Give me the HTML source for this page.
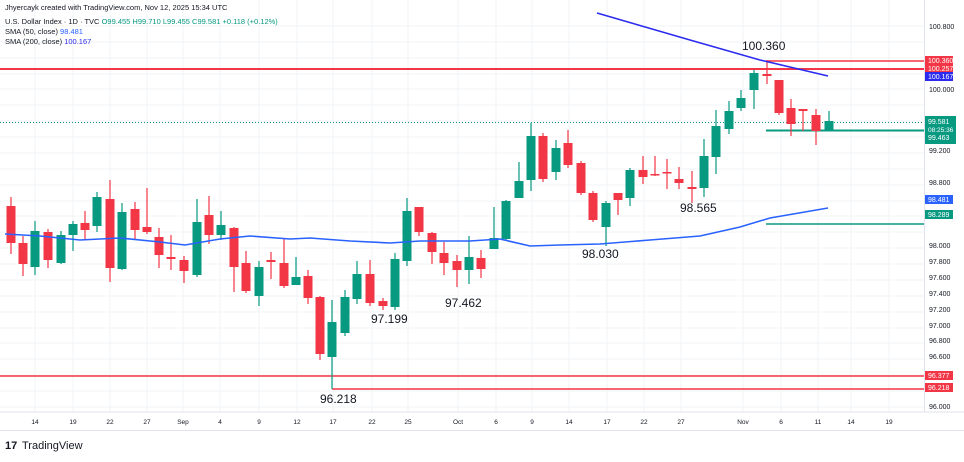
<!DOCTYPE html>
<html><head><meta charset="utf-8"><style>
html,body{margin:0;padding:0;background:#fff;}
svg{display:block;font-family:"Liberation Sans",sans-serif;}
</style></head><body>
<svg id="sv" width="964" height="462" viewBox="0 0 964 462" xmlns="http://www.w3.org/2000/svg">
<rect width="964" height="462" fill="#fff"/>
<g stroke="#f0f3f6" stroke-width="1">
<line x1="0" y1="26" x2="924" y2="26"/><line x1="0" y1="42" x2="924" y2="42"/><line x1="0" y1="58" x2="924" y2="58"/><line x1="0" y1="74" x2="924" y2="74"/><line x1="0" y1="89" x2="924" y2="89"/><line x1="0" y1="105" x2="924" y2="105"/><line x1="0" y1="121" x2="924" y2="121"/><line x1="0" y1="137" x2="924" y2="137"/><line x1="0" y1="153" x2="924" y2="153"/><line x1="0" y1="169" x2="924" y2="169"/><line x1="0" y1="185" x2="924" y2="185"/><line x1="0" y1="201" x2="924" y2="201"/><line x1="0" y1="216" x2="924" y2="216"/><line x1="0" y1="232" x2="924" y2="232"/><line x1="0" y1="248" x2="924" y2="248"/><line x1="0" y1="264" x2="924" y2="264"/><line x1="0" y1="280" x2="924" y2="280"/><line x1="0" y1="296" x2="924" y2="296"/><line x1="0" y1="312" x2="924" y2="312"/><line x1="0" y1="328" x2="924" y2="328"/><line x1="0" y1="343" x2="924" y2="343"/><line x1="0" y1="359" x2="924" y2="359"/><line x1="0" y1="375" x2="924" y2="375"/><line x1="0" y1="391" x2="924" y2="391"/><line x1="0" y1="407" x2="924" y2="407"/>
<line x1="35" y1="0" x2="35" y2="412"/><line x1="73" y1="0" x2="73" y2="412"/><line x1="110" y1="0" x2="110" y2="412"/><line x1="147" y1="0" x2="147" y2="412"/><line x1="183" y1="0" x2="183" y2="412"/><line x1="220" y1="0" x2="220" y2="412"/><line x1="259" y1="0" x2="259" y2="412"/><line x1="297" y1="0" x2="297" y2="412"/><line x1="333" y1="0" x2="333" y2="412"/><line x1="372" y1="0" x2="372" y2="412"/><line x1="408" y1="0" x2="408" y2="412"/><line x1="458" y1="0" x2="458" y2="412"/><line x1="496" y1="0" x2="496" y2="412"/><line x1="532" y1="0" x2="532" y2="412"/><line x1="569" y1="0" x2="569" y2="412"/><line x1="607" y1="0" x2="607" y2="412"/><line x1="644" y1="0" x2="644" y2="412"/><line x1="681" y1="0" x2="681" y2="412"/><line x1="743" y1="0" x2="743" y2="412"/><line x1="781" y1="0" x2="781" y2="412"/><line x1="818" y1="0" x2="818" y2="412"/><line x1="851" y1="0" x2="851" y2="412"/><line x1="889" y1="0" x2="889" y2="412"/>
</g>
<line x1="0" y1="412" x2="964" y2="412" stroke="#e0e3eb"/>
<line x1="924.5" y1="0" x2="924.5" y2="412" stroke="#e0e3eb"/>
<line x1="0" y1="430.5" x2="964" y2="430.5" stroke="#e0e3eb"/>
<line x1="0" y1="122.5" x2="924" y2="122.5" stroke="#089981" stroke-dasharray="1,2"/>
<line x1="0" y1="69" x2="924" y2="69" stroke="#f23645" stroke-width="2"/>
<line x1="767" y1="61" x2="924" y2="61" stroke="#f23645" stroke-width="1.5"/>
<line x1="0" y1="376" x2="924" y2="376" stroke="#f23645" stroke-width="1.5"/>
<line x1="332" y1="389" x2="924" y2="389" stroke="#f23645" stroke-width="1.5"/>
<line x1="766" y1="130.5" x2="924" y2="130.5" stroke="#089981" stroke-width="2"/>
<line x1="766" y1="224" x2="924" y2="224" stroke="#089981" stroke-width="1.5"/>
<g id="c"></g>
<polyline fill="none" stroke="#2962ff" stroke-width="1.6" points="5,234 40,236 80,240 120,238 160,242 185,245 220,239 250,236 290,239 310,238 350,241 390,243 420,241 470,241 500,239 530,246 560,245 600,244 650,240 700,236 740,227 770,218 828,208"/>
<polyline fill="none" stroke="#2b2bef" stroke-width="1.6" points="597,13 690,40 760,60 828,76"/>
<g font-size="12" fill="#131722">
<text x="742" y="50">100.360</text>
<text x="320" y="403">96.218</text>
<text x="371" y="323">97.199</text>
<text x="445" y="307">97.462</text>
<text x="582" y="258">98.030</text>
<text x="680" y="212">98.565</text>
</g>
<text x="5" y="10" font-size="7.5" fill="#131722">Jhyercayk created with TradingView.com, Nov 12, 2025 15:34 UTC</text>
<text x="5" y="24" font-size="7.5" fill="#131722">U.S. Dollar Index · 1D · TVC <tspan fill="#089981">O99.455 H99.710 L99.455 C99.581 +0.118 (+0.12%)</tspan></text>
<text x="5" y="34" font-size="7.5" fill="#131722">SMA (50, close) <tspan fill="#2962ff">98.481</tspan></text>
<text x="5" y="44" font-size="7.5" fill="#131722">SMA (200, close) <tspan fill="#2b2bef">100.167</tspan></text>
<g font-size="7" fill="#131722">
<text x="929" y="29">100.800</text><text x="929" y="92">100.000</text><text x="929" y="153">99.200</text><text x="929" y="185">98.800</text><text x="929" y="201">98.600</text><text x="929" y="216">98.400</text><text x="929" y="248">98.000</text><text x="929" y="264">97.800</text><text x="929" y="280">97.600</text><text x="929" y="296">97.400</text><text x="929" y="312">97.200</text><text x="929" y="328">97.000</text><text x="929" y="343">96.800</text><text x="929" y="359">96.600</text><text x="929" y="409">96.000</text>
</g>
<g font-size="7" fill="#fff">
<rect x="925" y="56" width="28" height="9" fill="#f23645"/><text x="928" y="63">100.360</text>
<rect x="925" y="64" width="28" height="9" fill="#f23645"/><text x="928" y="71">100.257</text>
<rect x="925" y="72" width="28" height="9" fill="#2b2bef"/><text x="928" y="79">100.167</text>
<rect x="925" y="116" width="31" height="28" fill="#089981"/><text x="928" y="124">99.581</text><text x="928" y="132" font-size="6.5">08:25:36</text><text x="928" y="140">99.463</text>
<rect x="925" y="195" width="28" height="9" fill="#2962ff"/><text x="928" y="202">98.481</text>
<rect x="925" y="210" width="28" height="9" fill="#089981"/><text x="928" y="217">98.289</text>
<rect x="925" y="371" width="28" height="9" fill="#f23645"/><text x="928" y="378">96.377</text>
<rect x="925" y="383" width="28" height="9" fill="#f23645"/><text x="928" y="390">96.218</text>
</g>
<g font-size="6.5" fill="#131722" text-anchor="middle">
<text x="35" y="424">14</text><text x="73" y="424">19</text><text x="110" y="424">22</text><text x="147" y="424">27</text><text x="183" y="424">Sep</text><text x="220" y="424">4</text><text x="259" y="424">9</text><text x="297" y="424">12</text><text x="333" y="424">17</text><text x="372" y="424">22</text><text x="408" y="424">25</text><text x="458" y="424">Oct</text><text x="496" y="424">6</text><text x="532" y="424">9</text><text x="569" y="424">14</text><text x="607" y="424">17</text><text x="644" y="424">22</text><text x="681" y="424">27</text><text x="743" y="424">Nov</text><text x="781" y="424">6</text><text x="818" y="424">11</text><text x="851" y="424">14</text><text x="889" y="424">19</text>
</g>
<text x="5" y="449" font-size="11" font-weight="bold" fill="#131722">17</text>
<text x="22" y="449" font-size="11" fill="#131722">TradingView</text>
</svg>
<script>
var d=[[11,206,243,197,254],[23,243,264,236,276],[35,267,231,221,275],[48,232,260,229,268],[61,263,235,231,264],[73,235,224,221,251],[85,223,230,211,240],[97,226,197,192,232],[110,199,268,180,282],[122,269,212,203,270],[135,209,230,202,240],[147,227,232,188,234],[159,237,255,228,268],[171,257,259,235,270],[184,260,271,256,283],[197,275,222,199,277],[209,215,235,196,244],[221,235,225,211,240],[234,228,267,227,292],[246,263,291,251,293],[259,296,267,261,306],[271,260,262,252,279],[284,263,286,238,288],[296,285,277,257,285],[308,276,298,270,304],[320,297,354,296,360],[332,357,322,300,389],[345,333,297,290,336],[357,299,274,261,304],[370,274,303,260,306],[383,301,306,298,310],[395,307,259,253,310],[407,261,211,198,266],[419,207,232,207,236],[432,233,252,232,264],[444,253,263,242,275],[457,261,270,255,287],[469,270,257,236,284],[481,258,269,250,278],[494,249,238,207,249],[506,239,201,200,240],[519,198,181,162,198],[531,180,136,123,191],[543,136,179,133,182],[556,172,148,140,180],[568,143,165,130,168],[581,163,193,161,195],[593,193,220,191,222],[606,227,203,201,246],[618,193,200,193,215],[630,198,170,168,206],[643,170,177,156,184],[655,174,175.5,156,176],[667,172,173.5,159,189],[679,179,183,167,189],[692,187,189,171,203],[704,188,156,139,197],[716,157,126,110,174],[729,129,111,101,134],[741,108,98,90,111],[754,90,73,70,109],[767,74,76,60,84],[779,80,113,80,115],[791,108,124,99,136],[803,109,111,109,131],[816,115,131,109,145],[829,131,121,111,131]];
var NS="http://www.w3.org/2000/svg",g=document.getElementById('c');
d.forEach(function(c){var up=c[2]<c[1],col=up?'#089981':'#f23645';var t=Math.min(c[1],c[2]),h=Math.max(Math.abs(c[2]-c[1]),1.5);
var l=document.createElementNS(NS,'line');l.setAttribute('x1',c[0]);l.setAttribute('x2',c[0]);l.setAttribute('y1',c[3]);l.setAttribute('y2',c[4]);l.setAttribute('stroke',col);l.setAttribute('stroke-width','1.2');g.appendChild(l);
var r=document.createElementNS(NS,'rect');r.setAttribute('x',c[0]-4.5);r.setAttribute('y',t);r.setAttribute('width',9);r.setAttribute('height',h);r.setAttribute('fill',col);g.appendChild(r);});
</script>
</body></html>
